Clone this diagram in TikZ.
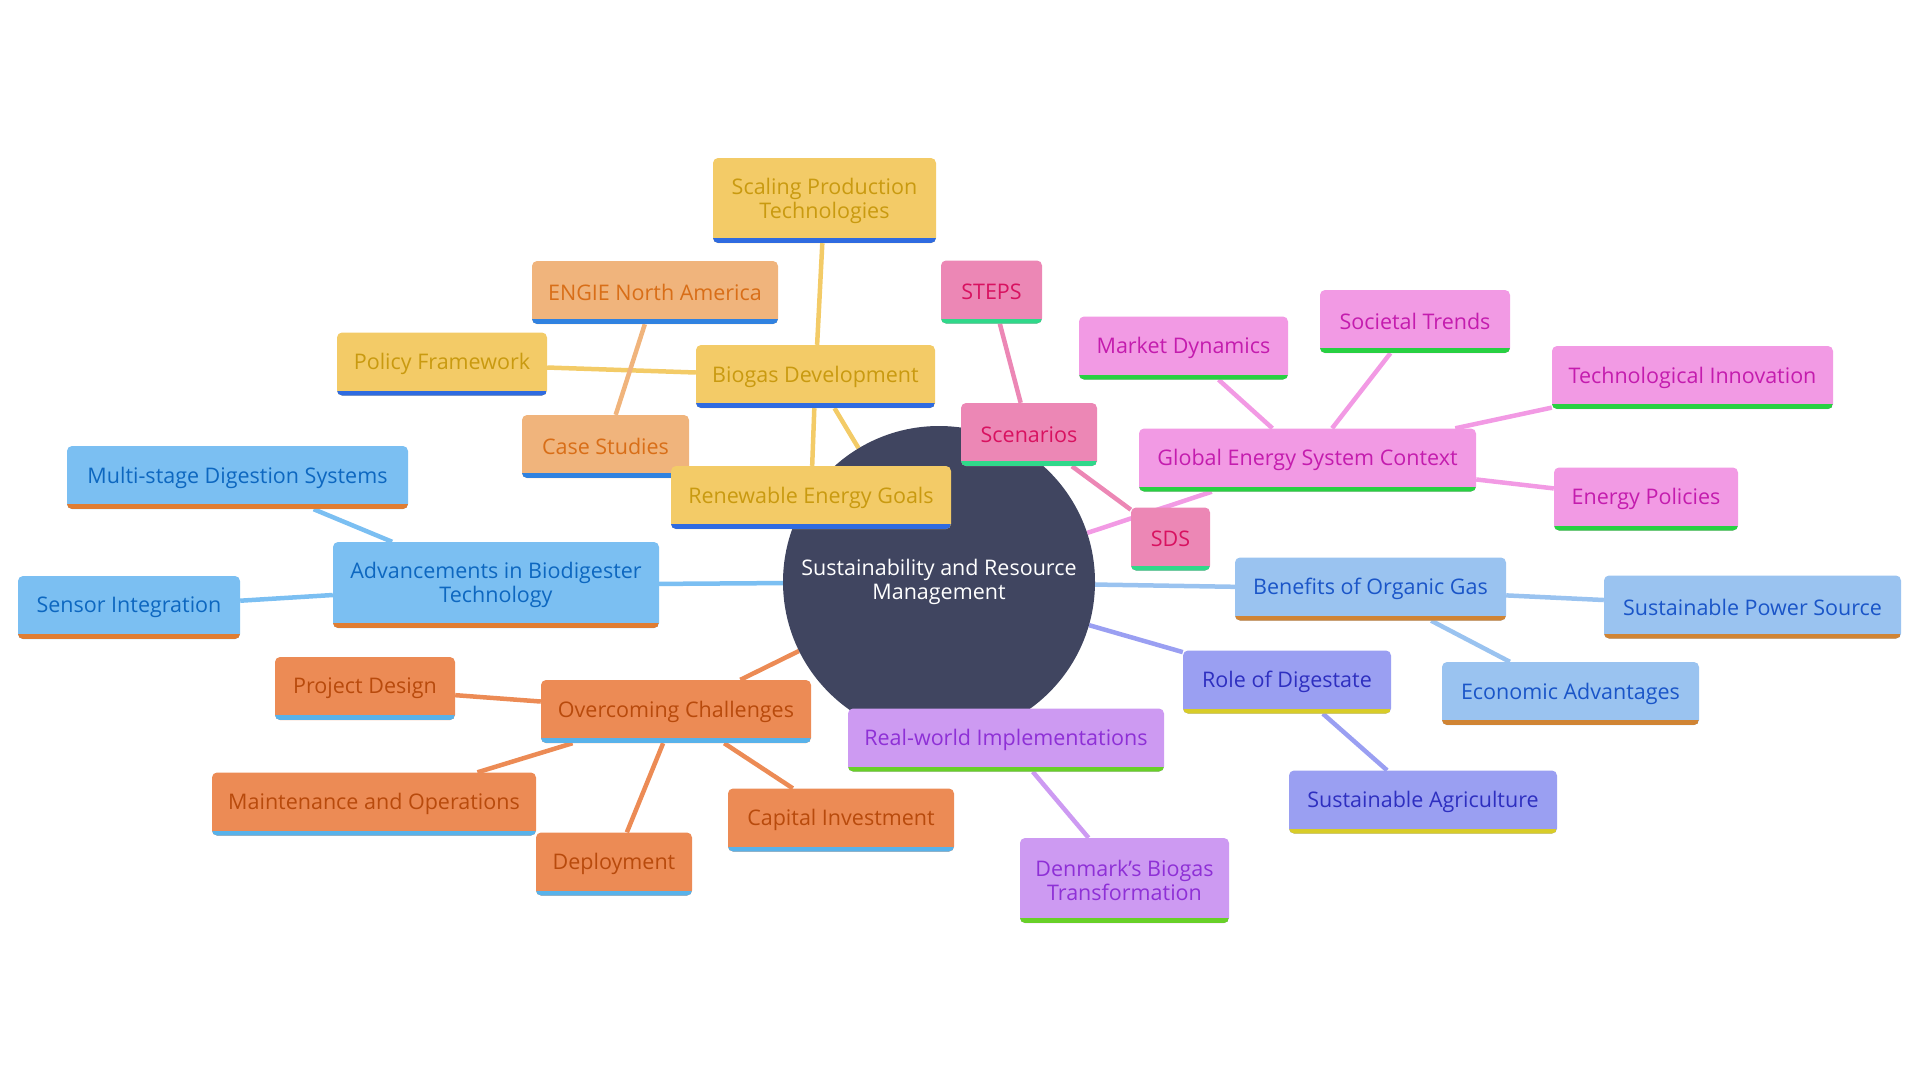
\documentclass[tikz,border=0pt]{standalone}
\usepackage{fontspec}
\setmainfont{Open Sans}
\usetikzlibrary{backgrounds}
\definecolor{rootFill}{HTML}{404560}
\definecolor{yelFill}{HTML}{F3CB67}\definecolor{yelText}{HTML}{C99A10}\definecolor{yelBar}{HTML}{2F6BE0}
\definecolor{peachFill}{HTML}{F0B47C}\definecolor{peachText}{HTML}{D86E18}\definecolor{peachBar}{HTML}{3082E0}
\definecolor{skyFill}{HTML}{7BBFF2}\definecolor{skyText}{HTML}{0D67C0}\definecolor{skyBar}{HTML}{E07D32}
\definecolor{amberFill}{HTML}{EC8B55}\definecolor{amberText}{HTML}{B84A0C}\definecolor{amberBar}{HTML}{58B2EA}
\definecolor{violetFill}{HTML}{CD9AF2}\definecolor{violetText}{HTML}{8E30D6}\definecolor{violetBar}{HTML}{68D028}
\definecolor{indigoFill}{HTML}{9A9FF2}\definecolor{indigoText}{HTML}{2E2FC0}\definecolor{indigoBar}{HTML}{D8CC28}
\definecolor{azureFill}{HTML}{9AC3F0}\definecolor{azureText}{HTML}{1A55C8}\definecolor{azureBar}{HTML}{D08434}
\definecolor{roseFill}{HTML}{EC87B5}\definecolor{roseText}{HTML}{D81260}\definecolor{roseBar}{HTML}{30D88A}
\definecolor{orchidFill}{HTML}{F29AE4}\definecolor{orchidText}{HTML}{C41CAE}\definecolor{orchidBar}{HTML}{28D042}
\tikzset{
  mm/.style={rectangle, rounded corners=5pt, inner xsep=4pt, inner ysep=0pt, minimum height=63pt,
    align=center, font=\fontsize{21.5}{24}\selectfont, fill=#1Fill, text=#1Text,
    path picture={\fill[#1Bar, sharp corners] (path picture bounding box.south west) rectangle ([yshift=5pt]path picture bounding box.south east);}},
  link/.style={draw=#1Fill, line width=4.5pt},
}
\begin{document}
\begin{tikzpicture}[x=1pt, y=-1pt]
\useasboundingbox (0,0) rectangle (1920,1080);
\node[circle, fill=rootFill, text=white, minimum size=312pt, align=center, font=\fontsize{21.5}{24}\selectfont] (root) at (939,582) {Sustainability and Resource\\Management};
\node[mm=peach, minimum width=167pt] (cases) at (605.5,446.5) {Case Studies};
\node[mm=peach, minimum width=246pt] (engie) at (655,292.5) {ENGIE North America};
\node[mm=yel, minimum width=239pt] (biogas) at (815.5,376.5) {Biogas Development};
\node[mm=yel, minimum width=223pt, minimum height=85pt] (scaling) at (824.5,200.5) {Scaling Production\\Technologies};
\node[mm=yel, minimum width=210pt] (policy) at (442,364) {Policy Framework};
\node[mm=yel, minimum width=280pt] (goals) at (811,497.5) {Renewable Energy Goals};
\node[mm=sky, minimum width=326pt, minimum height=86pt] (advance) at (496,585) {Advancements in Biodigester\\Technology};
\node[mm=sky, minimum width=341pt] (multi) at (237.5,477.5) {Multi-stage Digestion Systems};
\node[mm=sky, minimum width=222pt] (sensor) at (129,607.5) {Sensor Integration};
\node[mm=amber, minimum width=270pt] (overcome) at (676,711.5) {Overcoming Challenges};
\node[mm=amber, minimum width=180pt] (design) at (365,688.5) {Project Design};
\node[mm=amber, minimum width=324pt] (maint) at (374,804) {Maintenance and Operations};
\node[mm=amber, minimum width=156pt] (deploy) at (614,864) {Deployment};
\node[mm=amber, minimum width=226pt] (capital) at (841,820) {Capital Investment};
\node[mm=violet, minimum width=316pt] (realworld) at (1006,740) {Real-world Implementations};
\node[mm=violet, minimum width=209pt, minimum height=85pt] (denmark) at (1124.5,880.5) {Denmark's Biogas\\Transformation};
\node[mm=indigo, minimum width=208pt] (digestate) at (1287,682) {Role of Digestate};
\node[mm=indigo, minimum width=268pt] (agri) at (1423,802) {Sustainable Agriculture};
\node[mm=azure, minimum width=271pt] (benefits) at (1370.5,589) {Benefits of Organic Gas};
\node[mm=azure, minimum width=297pt] (power) at (1752.5,607) {Sustainable Power Source};
\node[mm=azure, minimum width=257pt] (economic) at (1570.5,693.5) {Economic Advantages};
\node[mm=rose, minimum width=136pt] (scenarios) at (1029,434.5) {Scenarios};
\node[mm=rose, minimum width=101pt] (steps) at (991.5,292) {STEPS};
\node[mm=rose, minimum width=79pt] (sds) at (1170.5,539) {SDS};
\node[mm=orchid, minimum width=337pt] (global) at (1307.5,460) {Global Energy System Context};
\node[mm=orchid, minimum width=209pt] (market) at (1183.5,348) {Market Dynamics};
\node[mm=orchid, minimum width=190pt] (societal) at (1415,321.5) {Societal Trends};
\node[mm=orchid, minimum width=281pt] (techinno) at (1692.5,377.5) {Technological Innovation};
\node[mm=orchid, minimum width=184pt] (enpolicy) at (1646,499) {Energy Policies};
\begin{scope}[on background layer]
\draw[link=yel] (root) -- (biogas);
\draw[link=yel] (biogas) -- (scaling);
\draw[link=yel] (biogas) -- (policy);
\draw[link=yel] (biogas) -- (goals);
\draw[link=peach] (root) -- (cases);
\draw[link=peach] (cases) -- (engie);
\draw[link=sky] (root) -- (advance);
\draw[link=sky] (advance) -- (multi);
\draw[link=sky] (advance) -- (sensor);
\draw[link=amber] (root) -- (overcome);
\draw[link=amber] (overcome) -- (design);
\draw[link=amber] (overcome) -- (maint);
\draw[link=amber] (overcome) -- (deploy);
\draw[link=amber] (overcome) -- (capital);
\draw[link=violet] (root) -- (realworld);
\draw[link=violet] (realworld) -- (denmark);
\draw[link=indigo] (root) -- (digestate);
\draw[link=indigo] (digestate) -- (agri);
\draw[link=azure] (root) -- (benefits);
\draw[link=azure] (benefits) -- (power);
\draw[link=azure] (benefits) -- (economic);
\draw[link=rose] (root) -- (scenarios);
\draw[link=rose] (scenarios) -- (steps);
\draw[link=rose] (scenarios) -- (sds);
\draw[link=orchid] (root) -- (global);
\draw[link=orchid] (global) -- (market);
\draw[link=orchid] (global) -- (societal);
\draw[link=orchid] (global) -- (techinno);
\draw[link=orchid] (global) -- (enpolicy);
\end{scope}
\end{tikzpicture}
\end{document}
